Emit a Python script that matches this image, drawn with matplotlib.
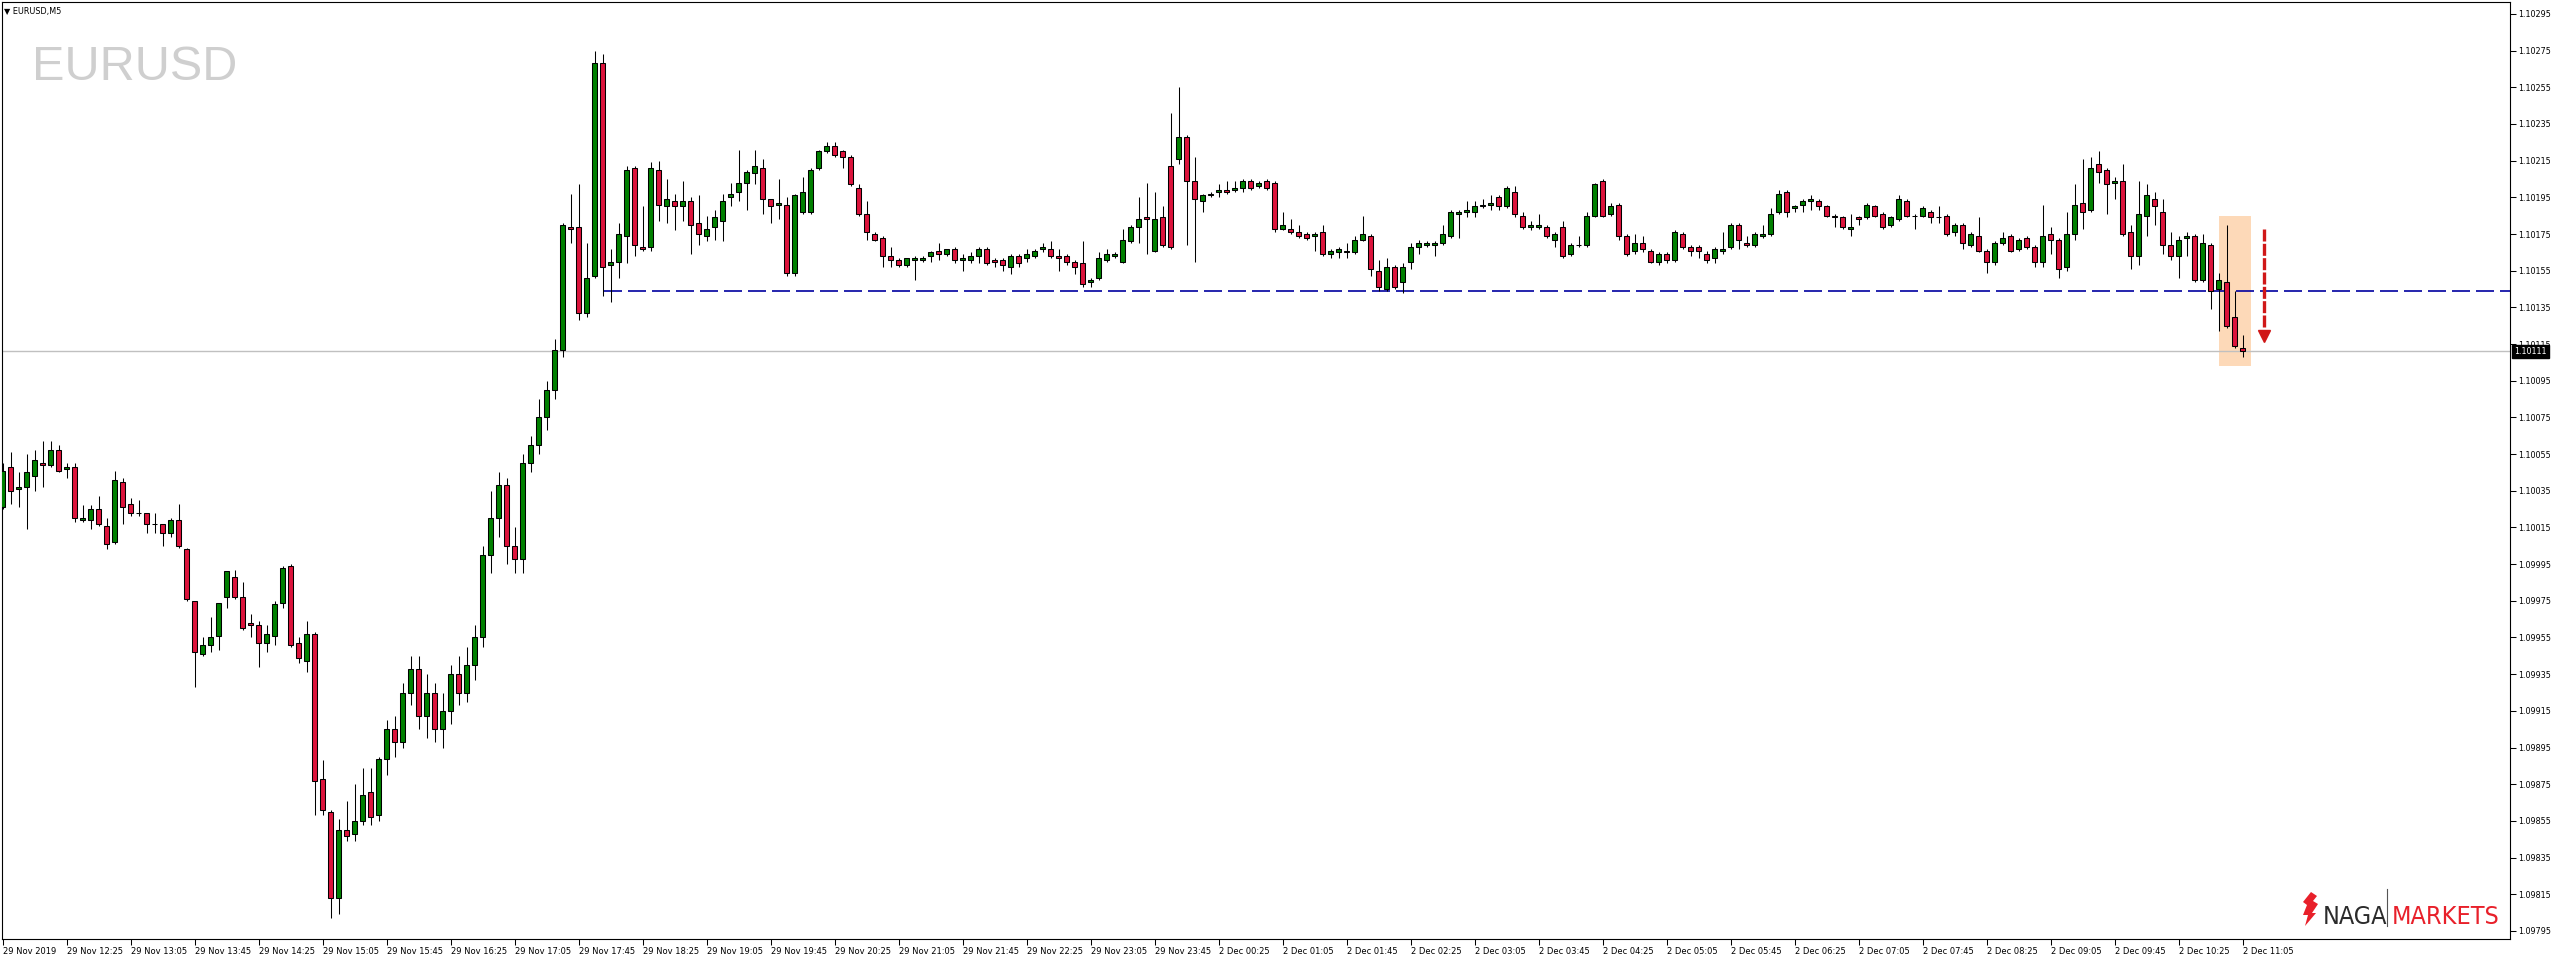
import matplotlib
matplotlib.use('Agg')
import matplotlib.pyplot as plt
from matplotlib.patches import Rectangle, Polygon
from matplotlib.lines import Line2D
from matplotlib.transforms import ScaledTranslation
import numpy as np

# EURUSD M5, 29 Nov 2019 11:45 -> 2 Dec 2019 11:05 (weekend collapsed, one slot per bar)
open_ = [
    1.10026, 1.10048, 1.10036, 1.10037, 1.10043, 1.10050, 1.10049, 1.10057, 1.10047, 1.10048,
    1.10019, 1.10019, 1.10025, 1.10016, 1.10007, 1.10040, 1.10028, 1.10023, 1.10023, 1.10017,
    1.10017, 1.10012, 1.10019, 1.10003, 1.09975, 1.09946, 1.09951, 1.09956, 1.09977, 1.09988,
    1.09977, 1.09963, 1.09962, 1.09952, 1.09956, 1.09974, 1.09994, 1.09952, 1.09942, 1.09957,
    1.09878, 1.09860, 1.09813, 1.09850, 1.09848, 1.09855, 1.09871, 1.09858, 1.09889, 1.09905,
    1.09898, 1.09925, 1.09938, 1.09912, 1.09925, 1.09905, 1.09915, 1.09935, 1.09925, 1.09940,
    1.09955, 1.10000, 1.10020, 1.10038, 1.10005, 1.09998, 1.10050, 1.10060, 1.10075, 1.10090,
    1.10112, 1.10179, 1.10179, 1.10132, 1.10152, 1.10268, 1.10158, 1.10160, 1.10174, 1.10211,
    1.10168, 1.10168, 1.10210, 1.10190, 1.10193, 1.10190, 1.10193, 1.10181, 1.10174, 1.10179,
    1.10182, 1.10195, 1.10198, 1.10203, 1.10208, 1.10211, 1.10194, 1.10191, 1.10191, 1.10154,
    1.10187, 1.10187, 1.10211, 1.10220, 1.10223, 1.10220, 1.10217, 1.10200, 1.10186, 1.10175,
    1.10173, 1.10163, 1.10161, 1.10158, 1.10161, 1.10161, 1.10163, 1.10166, 1.10164, 1.10167,
    1.10161, 1.10161, 1.10163, 1.10167, 1.10161, 1.10161, 1.10157, 1.10163, 1.10162, 1.10163,
    1.10167, 1.10167, 1.10163, 1.10163, 1.10160, 1.10159, 1.10149, 1.10151, 1.10161, 1.10163,
    1.10160, 1.10171, 1.10179, 1.10184, 1.10166, 1.10184, 1.10212, 1.10216, 1.10228, 1.10204,
    1.10193, 1.10196, 1.10198, 1.10199, 1.10199, 1.10200, 1.10204, 1.10201, 1.10204, 1.10203,
    1.10178, 1.10178, 1.10176, 1.10175, 1.10174, 1.10176, 1.10164, 1.10165, 1.10165, 1.10165,
    1.10172, 1.10174, 1.10155, 1.10145, 1.10157, 1.10149, 1.10160, 1.10168, 1.10169, 1.10169,
    1.10170, 1.10174, 1.10186, 1.10187, 1.10187, 1.10190, 1.10191, 1.10195, 1.10190, 1.10198,
    1.10185, 1.10179, 1.10179, 1.10179, 1.10172, 1.10179, 1.10164, 1.10169, 1.10169, 1.10185,
    1.10204, 1.10186, 1.10191, 1.10174, 1.10166, 1.10170, 1.10166, 1.10160, 1.10164, 1.10161,
    1.10175, 1.10168, 1.10168, 1.10164, 1.10162, 1.10166, 1.10168, 1.10180, 1.10170, 1.10169,
    1.10174, 1.10175, 1.10187, 1.10198, 1.10189, 1.10191, 1.10193, 1.10193, 1.10190, 1.10185,
    1.10184, 1.10178, 1.10184, 1.10184, 1.10190, 1.10186, 1.10180, 1.10183, 1.10193, 1.10185,
    1.10185, 1.10187, 1.10184, 1.10185, 1.10176, 1.10180, 1.10169, 1.10174, 1.10166, 1.10160,
    1.10170, 1.10174, 1.10167, 1.10173, 1.10168, 1.10160, 1.10175, 1.10172, 1.10157, 1.10175,
    1.10192, 1.10188, 1.10213, 1.10210, 1.10203, 1.10204, 1.10176, 1.10163, 1.10185, 1.10194,
    1.10187, 1.10169, 1.10163, 1.10173, 1.10174, 1.10150, 1.10169, 1.10145, 1.10149, 1.10130,
    1.10113,
]
high = [
    1.10050, 1.10056, 1.10045, 1.10055, 1.10057, 1.10062, 1.10062, 1.10060, 1.10050, 1.10050,
    1.10027, 1.10027, 1.10032, 1.10020, 1.10046, 1.10042, 1.10031, 1.10030, 1.10023, 1.10023,
    1.10017, 1.10020, 1.10028, 1.10004, 1.09975, 1.09955, 1.09966, 1.09974, 1.09991, 1.09992,
    1.09985, 1.09968, 1.09964, 1.09962, 1.09975, 1.09994, 1.09995, 1.09955, 1.09964, 1.09958,
    1.09888, 1.09861, 1.09856, 1.09866, 1.09875, 1.09884, 1.09884, 1.09890, 1.09910, 1.09912,
    1.09930, 1.09945, 1.09945, 1.09935, 1.09930, 1.09925, 1.09940, 1.09945, 1.09950, 1.09962,
    1.10005, 1.10035, 1.10045, 1.10042, 1.10015, 1.10055, 1.10065, 1.10085, 1.10095, 1.10118,
    1.10181, 1.10197, 1.10202, 1.10170, 1.10275, 1.10273, 1.10167, 1.10181, 1.10212, 1.10212,
    1.10190, 1.10214, 1.10215, 1.10205, 1.10197, 1.10204, 1.10195, 1.10196, 1.10185, 1.10188,
    1.10197, 1.10203, 1.10221, 1.10210, 1.10221, 1.10216, 1.10194, 1.10205, 1.10195, 1.10197,
    1.10206, 1.10211, 1.10221, 1.10225, 1.10225, 1.10221, 1.10218, 1.10202, 1.10193, 1.10176,
    1.10174, 1.10168, 1.10162, 1.10162, 1.10163, 1.10163, 1.10166, 1.10170, 1.10167, 1.10168,
    1.10164, 1.10165, 1.10168, 1.10168, 1.10162, 1.10162, 1.10164, 1.10164, 1.10167, 1.10167,
    1.10170, 1.10171, 1.10167, 1.10164, 1.10161, 1.10171, 1.10151, 1.10165, 1.10167, 1.10165,
    1.10178, 1.10180, 1.10195, 1.10203, 1.10198, 1.10190, 1.10241, 1.10255, 1.10229, 1.10217,
    1.10197, 1.10198, 1.10202, 1.10204, 1.10204, 1.10205, 1.10205, 1.10204, 1.10205, 1.10204,
    1.10187, 1.10183, 1.10180, 1.10176, 1.10176, 1.10180, 1.10167, 1.10168, 1.10170, 1.10174,
    1.10185, 1.10175, 1.10161, 1.10162, 1.10158, 1.10159, 1.10170, 1.10172, 1.10171, 1.10171,
    1.10180, 1.10188, 1.10188, 1.10193, 1.10193, 1.10194, 1.10196, 1.10196, 1.10201, 1.10201,
    1.10187, 1.10182, 1.10186, 1.10180, 1.10176, 1.10182, 1.10170, 1.10174, 1.10187, 1.10203,
    1.10205, 1.10192, 1.10192, 1.10175, 1.10175, 1.10174, 1.10167, 1.10165, 1.10165, 1.10177,
    1.10176, 1.10169, 1.10169, 1.10166, 1.10168, 1.10176, 1.10181, 1.10181, 1.10174, 1.10176,
    1.10180, 1.10189, 1.10199, 1.10199, 1.10191, 1.10194, 1.10196, 1.10194, 1.10191, 1.10186,
    1.10185, 1.10186, 1.10185, 1.10192, 1.10191, 1.10187, 1.10185, 1.10196, 1.10194, 1.10186,
    1.10190, 1.10188, 1.10190, 1.10186, 1.10181, 1.10181, 1.10176, 1.10184, 1.10167, 1.10171,
    1.10176, 1.10175, 1.10173, 1.10174, 1.10169, 1.10191, 1.10179, 1.10173, 1.10187, 1.10202,
    1.10216, 1.10217, 1.10220, 1.10211, 1.10206, 1.10213, 1.10180, 1.10204, 1.10202, 1.10198,
    1.10194, 1.10176, 1.10174, 1.10176, 1.10175, 1.10175, 1.10170, 1.10154, 1.10180, 1.10144,
    1.10120,
]
low = [
    1.10025, 1.10028, 1.10026, 1.10014, 1.10035, 1.10037, 1.10048, 1.10045, 1.10042, 1.10018,
    1.10018, 1.10014, 1.10016, 1.10003, 1.10006, 1.10017, 1.10021, 1.10021, 1.10012, 1.10012,
    1.10005, 1.10010, 1.10004, 1.09975, 1.09928, 1.09945, 1.09947, 1.09948, 1.09971, 1.09976,
    1.09959, 1.09955, 1.09939, 1.09947, 1.09951, 1.09971, 1.09950, 1.09941, 1.09936, 1.09858,
    1.09858, 1.09802, 1.09804, 1.09844, 1.09844, 1.09853, 1.09853, 1.09855, 1.09880, 1.09890,
    1.09895, 1.09918, 1.09905, 1.09900, 1.09898, 1.09895, 1.09908, 1.09918, 1.09920, 1.09932,
    1.09950, 1.09990, 1.10010, 1.09995, 1.09990, 1.09990, 1.10045, 1.10055, 1.10068, 1.10085,
    1.10108, 1.10170, 1.10128, 1.10130, 1.10151, 1.10141, 1.10138, 1.10151, 1.10159, 1.10163,
    1.10166, 1.10166, 1.10182, 1.10181, 1.10177, 1.10182, 1.10164, 1.10169, 1.10171, 1.10172,
    1.10171, 1.10190, 1.10193, 1.10188, 1.10202, 1.10186, 1.10181, 1.10183, 1.10152, 1.10152,
    1.10186, 1.10186, 1.10210, 1.10219, 1.10217, 1.10211, 1.10201, 1.10185, 1.10172, 1.10171,
    1.10157, 1.10157, 1.10157, 1.10157, 1.10150, 1.10160, 1.10160, 1.10161, 1.10163, 1.10159,
    1.10155, 1.10159, 1.10159, 1.10158, 1.10157, 1.10155, 1.10153, 1.10157, 1.10160, 1.10162,
    1.10165, 1.10162, 1.10155, 1.10158, 1.10153, 1.10146, 1.10146, 1.10150, 1.10160, 1.10162,
    1.10159, 1.10170, 1.10170, 1.10164, 1.10165, 1.10168, 1.10167, 1.10213, 1.10169, 1.10160,
    1.10187, 1.10195, 1.10195, 1.10197, 1.10198, 1.10198, 1.10199, 1.10200, 1.10199, 1.10176,
    1.10177, 1.10175, 1.10173, 1.10172, 1.10166, 1.10163, 1.10162, 1.10162, 1.10162, 1.10164,
    1.10171, 1.10152, 1.10144, 1.10144, 1.10145, 1.10143, 1.10156, 1.10164, 1.10168, 1.10163,
    1.10169, 1.10173, 1.10173, 1.10184, 1.10184, 1.10189, 1.10188, 1.10188, 1.10189, 1.10184,
    1.10178, 1.10177, 1.10178, 1.10173, 1.10168, 1.10162, 1.10163, 1.10168, 1.10168, 1.10184,
    1.10184, 1.10185, 1.10172, 1.10163, 1.10164, 1.10165, 1.10159, 1.10158, 1.10159, 1.10160,
    1.10167, 1.10163, 1.10162, 1.10159, 1.10159, 1.10164, 1.10167, 1.10167, 1.10168, 1.10168,
    1.10173, 1.10174, 1.10186, 1.10184, 1.10187, 1.10187, 1.10188, 1.10188, 1.10184, 1.10179,
    1.10178, 1.10174, 1.10180, 1.10183, 1.10184, 1.10178, 1.10179, 1.10182, 1.10184, 1.10178,
    1.10184, 1.10181, 1.10181, 1.10174, 1.10174, 1.10167, 1.10168, 1.10165, 1.10154, 1.10158,
    1.10169, 1.10165, 1.10166, 1.10167, 1.10157, 1.10157, 1.10164, 1.10151, 1.10155, 1.10172,
    1.10178, 1.10187, 1.10203, 1.10186, 1.10194, 1.10174, 1.10156, 1.10158, 1.10174, 1.10180,
    1.10164, 1.10161, 1.10151, 1.10163, 1.10149, 1.10149, 1.10134, 1.10122, 1.10124, 1.10113,
    1.10108,
]
close = [
    1.10046, 1.10035, 1.10037, 1.10045, 1.10052, 1.10049, 1.10057, 1.10046, 1.10048, 1.10020,
    1.10020, 1.10025, 1.10017, 1.10006, 1.10041, 1.10026, 1.10023, 1.10023, 1.10017, 1.10017,
    1.10012, 1.10019, 1.10005, 1.09976, 1.09947, 1.09951, 1.09955, 1.09974, 1.09991, 1.09977,
    1.09960, 1.09962, 1.09952, 1.09957, 1.09973, 1.09993, 1.09951, 1.09944, 1.09957, 1.09877,
    1.09861, 1.09813, 1.09850, 1.09847, 1.09855, 1.09869, 1.09857, 1.09889, 1.09905, 1.09898,
    1.09925, 1.09938, 1.09912, 1.09925, 1.09905, 1.09915, 1.09935, 1.09925, 1.09940, 1.09955,
    1.10000, 1.10020, 1.10038, 1.10005, 1.09998, 1.10050, 1.10060, 1.10075, 1.10090, 1.10112,
    1.10180, 1.10178, 1.10132, 1.10151, 1.10268, 1.10157, 1.10160, 1.10175, 1.10210, 1.10169,
    1.10167, 1.10211, 1.10191, 1.10194, 1.10190, 1.10193, 1.10180, 1.10175, 1.10178, 1.10184,
    1.10193, 1.10197, 1.10203, 1.10209, 1.10212, 1.10194, 1.10190, 1.10192, 1.10154, 1.10196,
    1.10198, 1.10210, 1.10220, 1.10223, 1.10218, 1.10217, 1.10202, 1.10186, 1.10176, 1.10172,
    1.10163, 1.10161, 1.10158, 1.10162, 1.10162, 1.10162, 1.10165, 1.10164, 1.10167, 1.10161,
    1.10162, 1.10163, 1.10167, 1.10159, 1.10160, 1.10158, 1.10163, 1.10159, 1.10164, 1.10166,
    1.10168, 1.10163, 1.10162, 1.10160, 1.10157, 1.10148, 1.10150, 1.10162, 1.10164, 1.10164,
    1.10172, 1.10179, 1.10183, 1.10183, 1.10183, 1.10169, 1.10168, 1.10228, 1.10204, 1.10194,
    1.10196, 1.10197, 1.10199, 1.10198, 1.10200, 1.10204, 1.10200, 1.10203, 1.10200, 1.10178,
    1.10180, 1.10176, 1.10174, 1.10173, 1.10175, 1.10164, 1.10166, 1.10167, 1.10166, 1.10172,
    1.10175, 1.10156, 1.10146, 1.10157, 1.10146, 1.10157, 1.10168, 1.10170, 1.10170, 1.10170,
    1.10175, 1.10187, 1.10187, 1.10188, 1.10190, 1.10191, 1.10192, 1.10190, 1.10200, 1.10186,
    1.10179, 1.10180, 1.10180, 1.10174, 1.10175, 1.10163, 1.10169, 1.10169, 1.10185, 1.10202,
    1.10185, 1.10190, 1.10174, 1.10164, 1.10170, 1.10167, 1.10160, 1.10164, 1.10161, 1.10176,
    1.10168, 1.10166, 1.10166, 1.10161, 1.10167, 1.10167, 1.10180, 1.10172, 1.10169, 1.10175,
    1.10175, 1.10186, 1.10197, 1.10187, 1.10190, 1.10193, 1.10194, 1.10190, 1.10185, 1.10184,
    1.10179, 1.10179, 1.10183, 1.10191, 1.10185, 1.10179, 1.10184, 1.10194, 1.10185, 1.10185,
    1.10189, 1.10184, 1.10184, 1.10175, 1.10180, 1.10170, 1.10175, 1.10166, 1.10160, 1.10170,
    1.10173, 1.10166, 1.10172, 1.10168, 1.10160, 1.10174, 1.10172, 1.10156, 1.10175, 1.10191,
    1.10187, 1.10211, 1.10209, 1.10202, 1.10204, 1.10175, 1.10163, 1.10186, 1.10196, 1.10190,
    1.10169, 1.10163, 1.10172, 1.10174, 1.10150, 1.10170, 1.10144, 1.10150, 1.10125, 1.10114,
    1.10111,
]

# every 8th bar gets a time label
x_tick_labels = [
    '29 Nov 2019', '29 Nov 12:25', '29 Nov 13:05', '29 Nov 13:45', '29 Nov 14:25',
    '29 Nov 15:05', '29 Nov 15:45', '29 Nov 16:25', '29 Nov 17:05', '29 Nov 17:45',
    '29 Nov 18:25', '29 Nov 19:05', '29 Nov 19:45', '29 Nov 20:25', '29 Nov 21:05',
    '29 Nov 21:45', '29 Nov 22:25', '29 Nov 23:05', '29 Nov 23:45', '2 Dec 00:25',
    '2 Dec 01:05', '2 Dec 01:45', '2 Dec 02:25', '2 Dec 03:05', '2 Dec 03:45',
    '2 Dec 04:25', '2 Dec 05:05', '2 Dec 05:45', '2 Dec 06:25', '2 Dec 07:05',
    '2 Dec 07:45', '2 Dec 08:25', '2 Dec 09:05', '2 Dec 09:45', '2 Dec 10:25',
    '2 Dec 11:05',
]

support_level = 1.10144      # blue dashed line
support_start = 75.1         # bar index where it starts
last_price = 1.10111
box_bars = (277.0, 281.0)    # highlighted bars
box_prices = (1.10103, 1.10185)
arrow_bar = 282.7
arrow_prices = (1.10178, 1.10116)

W, H = 2556, 960
fig = plt.figure(figsize=(W / 100, H / 100), dpi=100)
fig.patch.set_facecolor('white')
ax = fig.add_axes([2 / W, (H - 939) / H, 2508 / W, 937 / H])

o = np.array(open_)
h = np.array(high)
l = np.array(low)
c = np.array(close)
assert len(o) == len(h) == len(l) == len(c)
x = np.arange(len(c))
up = c >= o

ax.vlines(x, l, h, color='black', lw=0.75, zorder=3)
ax.bar(x[up], (c - o)[up], bottom=o[up], width=0.62, color='#008000',
       edgecolor='black', linewidth=0.75, zorder=4)
ax.bar(x[~up], (o - c)[~up], bottom=c[~up], width=0.62, color='#dc143c',
       edgecolor='black', linewidth=0.75, zorder=4)

# highlight box, lines, arrow
ax.add_patch(Rectangle((box_bars[0], box_prices[0]), box_bars[1] - box_bars[0],
                       box_prices[1] - box_prices[0], facecolor='#fdd9b8',
                       edgecolor='none', zorder=1))
ax.axhline(last_price, color='#c0c0c0', lw=1.0, zorder=2)
ax.plot([support_start, 320], [support_level, support_level], color='#0000a0',
        lw=1.2, ls=(0, (10.8, 3.6)), zorder=2)
ax.plot([arrow_bar, arrow_bar], [arrow_prices[0], arrow_prices[1] + 0.00008],
        color='#d01818', lw=2.4, ls=(0, (3.6, 0.7)), solid_capstyle='butt', zorder=5)
ax.plot([arrow_bar], [arrow_prices[1] + 0.000035], marker='v', markersize=8,
        color='#d01818', zorder=5)

ax.set_xlim(-0.09, 313.4)
ax.set_ylim(1.097906, 1.103015)

# axes styling, MT4 look
for s in ax.spines.values():
    s.set_linewidth(0.8)
    s.set_color('black')
ax.set_xticks(x[::8])
ax.set_xticklabels(x_tick_labels, fontsize=6.0, ha='left')
offset = ScaledTranslation(1 / 100, 0, fig.dpi_scale_trans)
for lab in ax.get_xticklabels():
    lab.set_transform(lab.get_transform() + offset)
ax.tick_params(axis='x', direction='out', length=4, width=0.75, pad=1.5)

yt = np.round(np.arange(1.09795, 1.10296, 0.0002), 5)
ax.yaxis.tick_right()
ax.set_yticks(yt)
ax.set_yticklabels([f'{v:.5f}' for v in yt], fontsize=5.8)
ax.tick_params(axis='y', direction='out', length=4, width=0.75, pad=2)

# current price tag
ax.text(1.0 + 4 / 2508, last_price, f'{last_price:.5f}', transform=ax.get_yaxis_transform(),
        ha='left', va='center', fontsize=5.8, color='white', zorder=10, clip_on=False,
        bbox=dict(boxstyle='square,pad=0.25', facecolor='black', edgecolor='black'))

# header + watermark
fig.text(4 / W, 1 - 14 / H, '\u25bc EURUSD,M5', fontsize=5.9, va='baseline', ha='left')
fig.text(32 / W, 1 - 80 / H, 'EURUSD', fontsize=35, color='#cfcfcf', va='baseline',
         ha='left', family='Liberation Sans')

# broker logo, bottom right
icon = [(2311, 892), (2317, 896), (2313, 901), (2318, 904), (2312, 913), (2316, 913),
        (2305, 926), (2308, 915), (2303, 915), (2307, 905), (2303, 902)]
fig.add_artist(Polygon([(px / W, 1 - py / H) for px, py in icon], closed=True,
                       facecolor='#e8202a', edgecolor='none', transform=fig.transFigure))
fig.text(2323 / W, 1 - 924 / H, 'NAGA', fontsize=18, color='#2b2b2b', va='baseline',
         ha='left', family='DejaVu Sans', fontstretch='condensed')
fig.add_artist(Line2D([2387 / W, 2387 / W], [1 - 889 / H, 1 - 926 / H], color='#555555',
                      lw=0.8, transform=fig.transFigure))
fig.text(2392 / W, 1 - 924 / H, 'MARKETS', fontsize=18, color='#e8202a', va='baseline',
         ha='left', family='DejaVu Sans', fontstretch='condensed')

fig.savefig('out.png', dpi=100, facecolor='white')
